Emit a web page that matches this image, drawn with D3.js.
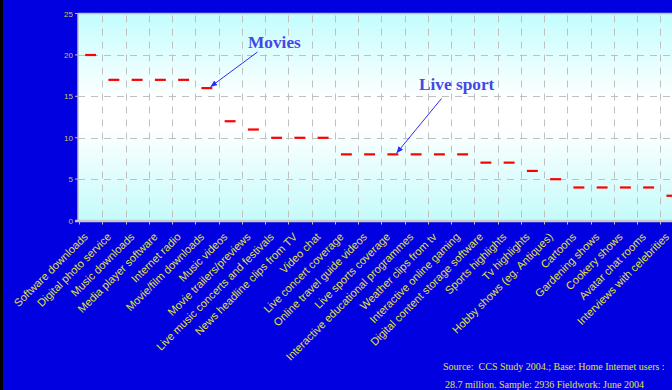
<!DOCTYPE html>
<html><head><meta charset="utf-8">
<script src="https://cdn.jsdelivr.net/npm/d3@7"></script>
<style>html,body{margin:0;padding:0;background:#0000e0;overflow:hidden}</style>
</head><body>
<script>
const categories = ["Software downloads","Digital photo service","Music downloads","Media player software","Internet radio","Movie/film downloads","Music videos","Movie trailers/previews","Live music concerts and festivals","News headline clips from TV","Video chat","Live concert coverage","Online travel guide videos","Live sports coverage","Interactive educational programmes","Weather clips from tv","Interactive online gaming","Digital content storage software","Sports highlights","Tv highlights","Hobby shows (eg. Antiques)","Cartoons","Gardening shows","Cookery shows","Avatar chat rooms","Interviews with celebrities"];
const values = [20,17,17,17,17,16,12,11,10,10,10,8,8,8,8,8,8,7,7,6,5,4,4,4,4,3];
const yTicks = [0,5,10,15,20,25];
const annotations = [
  {text:"Movies", category:"Movie/film downloads"},
  {text:"Live sport", category:"Live sports coverage"}
];
const sourceLines = ["Source:  CCS Study 2004.; Base: Home Internet users :","28.7 million. Sample: 2936 Fieldwork: June 2004"];

(function(){
const W=672,H=390;
const svg=d3.select("body").append("svg").attr("width",W).attr("height",H);
svg.append("rect").attr("width",W).attr("height",H).attr("fill","#0000e0");
svg.append("rect").attr("width",3).attr("height",H).attr("fill","#000");

const pL=78, pT=13.5, pB=220.5;
const x=d3.scaleBand().domain(categories).range([pL+1,pL+1+23.25*categories.length]).padding(0);
const y=d3.scaleLinear().domain([0,25]).range([pB,pT]);
const pR=W+20;

const defs=svg.append("defs");
const g=defs.append("linearGradient").attr("id","bg").attr("x1",0).attr("x2",0).attr("y1",0).attr("y2",1);
g.append("stop").attr("offset","0%").attr("stop-color","#c4fdfd");
g.append("stop").attr("offset","42%").attr("stop-color","#ffffff");
g.append("stop").attr("offset","55%").attr("stop-color","#ffffff");
g.append("stop").attr("offset","100%").attr("stop-color","#c4fbfb");
defs.append("marker").attr("id","arr").attr("viewBox","0 0 10 10").attr("refX",9).attr("refY",5)
  .attr("markerWidth",7).attr("markerHeight",7).attr("orient","auto")
  .append("path").attr("d","M0,1 L10,5 L0,9 Z").attr("fill","#2a2aff");

svg.append("rect").attr("x",pL).attr("y",pT).attr("width",pR-pL).attr("height",pB-pT).attr("fill","url(#bg)");

const grid=svg.append("g").attr("stroke","#c0c0c0").attr("stroke-width",1).attr("stroke-dasharray","7,6");
grid.selectAll("line.h").data(yTicks.filter(d=>d>0&&d<25)).join("line").attr("class","h")
  .attr("x1",pL).attr("x2",pR).attr("y1",d=>Math.round(y(d))+0.5).attr("y2",d=>Math.round(y(d))+0.5);
grid.selectAll("line.v").data(categories.slice(1)).join("line").attr("class","v")
  .attr("x1",d=>Math.round(x(d))+0.5).attr("x2",d=>Math.round(x(d))+0.5).attr("y1",pT+2).attr("y2",pB);

svg.append("line").attr("x1",pL).attr("x2",pR).attr("y1",pT).attr("y2",pT).attr("stroke","#c0c0c0").attr("stroke-width",1.5);
svg.append("line").attr("x1",pL).attr("x2",pL).attr("y1",pT).attr("y2",pB+1).attr("stroke","#c0c0c0").attr("stroke-width",1.5);
svg.append("line").attr("x1",pL-3).attr("x2",pR).attr("y1",pB+0.5).attr("y2",pB+0.5).attr("stroke","#c8c8c8").attr("stroke-width",2.5);

svg.selectAll("line.yt").data(yTicks).join("line").attr("class","yt").attr("x1",pL-3).attr("x2",pL)
  .attr("y1",d=>y(d)).attr("y2",d=>y(d)).attr("stroke","#c0c0c0");
svg.selectAll("text.yl").data(yTicks).join("text").attr("class","yl").attr("x",pL-5).attr("y",d=>y(d)+3)
  .attr("text-anchor","end").attr("font-family","Liberation Sans, Arial").attr("font-size",8)
  .attr("fill","#c8c85a").text(d=>d);

svg.selectAll("line.xt").data(categories).join("line").attr("class","xt")
  .attr("x1",d=>Math.round(x(d))+0.5).attr("x2",d=>Math.round(x(d))+0.5).attr("y1",pB).attr("y2",pB+4)
  .attr("stroke","#c0c0c0");

svg.selectAll("text.xl").data(categories).join("text").attr("class","xl")
  .attr("transform",d=>`translate(${x(d)+x.bandwidth()/2-2},${pB+17}) rotate(-45)`)
  .attr("text-anchor","end").attr("font-family","Liberation Sans, Arial").attr("font-size",11)
  .attr("fill","#e4e43c").text(d=>d);

const dw=x.bandwidth()*0.47;
svg.selectAll("rect.m").data(values).join("rect").attr("class","m")
  .attr("x",(d,i)=>x(categories[i])+x.bandwidth()/2-dw/2).attr("y",d=>y(d)-1)
  .attr("width",dw).attr("height",2.2).attr("fill","#ff0000");

const annPos=[{tx:248,ty:48,lx1:257.5,ly1:52},{tx:419,ty:90,lx1:441.5,ly1:98.5}];
annotations.forEach((a,k)=>{
  const i=categories.indexOf(a.category);
  const cx=x(a.category)+x.bandwidth()/2, cy=y(values[i]);
  const p=annPos[k];
  svg.append("line").attr("x1",p.lx1).attr("y1",p.ly1).attr("x2",cx+4).attr("y2",cy-1.5)
    .attr("stroke","#2a2aff").attr("stroke-width",1).attr("marker-end","url(#arr)");
  svg.append("text").attr("x",p.tx).attr("y",p.ty).attr("font-family","Liberation Serif, Times New Roman")
    .attr("font-weight","bold").attr("font-size",17.3).attr("fill","#4646e6").text(a.text);
});

svg.selectAll("text.src").data(sourceLines).join("text").attr("class","src")
  .attr("x",(d,i)=>i?445:443).attr("y",(d,i)=>370+i*17.5)
  .attr("font-family","Liberation Serif, Times New Roman").attr("font-size",10)
  .style("white-space","pre")
  .attr("fill","#e4e43c").text(d=>d);
})();
</script>
</body></html>
